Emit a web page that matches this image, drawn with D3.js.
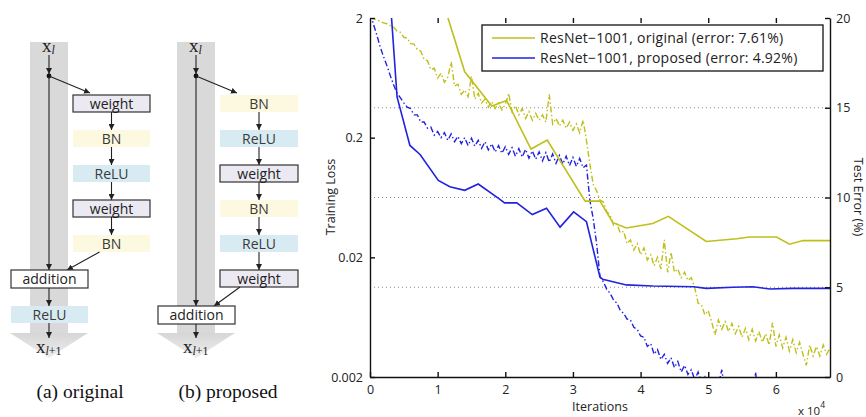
<!DOCTYPE html>
<html>
<head>
<meta charset="utf-8">
<script src="https://cdn.jsdelivr.net/npm/d3@7"></script>
<style>
  body { margin: 0; background: #fff; }
  svg { display: block; }
</style>
</head>
<body>
<svg id="fig" width="866" height="417"></svg>
<script>
// Training loss is logged every 500 iterations (x axis is in units of 10^4)
const iterStep = 0.05;

const origLoss = [
  2.0, 1.98, 1.92, 1.88, 1.82, 1.79, 1.73, 1.68, 1.55, 1.52,
  1.38, 1.36, 1.22, 1.21, 1.09, 1.06, 0.90, 0.88, 0.74, 0.76,
  0.63, 0.69, 0.58, 0.64, 0.86, 0.54, 0.56, 0.46, 0.50, 0.44,
  0.65, 0.42, 0.47, 0.39, 0.42, 0.36, 0.40, 0.35, 0.39, 0.34,
  0.38, 0.47, 0.33, 0.37, 0.31, 0.35, 0.29, 0.33, 0.28, 0.32,
  0.28, 0.31, 0.27, 0.46, 0.26, 0.29, 0.25, 0.28, 0.24, 0.27,
  0.23, 0.26, 0.22, 0.28, 0.19, 0.12, 0.081, 0.072, 0.060, 0.058,
  0.048, 0.045, 0.037, 0.038, 0.032, 0.033, 0.026, 0.028, 0.023, 0.026,
  0.021, 0.024, 0.019, 0.021, 0.017, 0.020, 0.016, 0.028, 0.015, 0.022,
  0.015, 0.016, 0.0135, 0.0150, 0.0128, 0.0135, 0.0112, 0.0083, 0.0080, 0.0066,
  0.0072, 0.0058, 0.0045, 0.0060, 0.0050, 0.0058, 0.0048, 0.0056, 0.0046, 0.0053,
  0.0043, 0.0051, 0.0041, 0.0050, 0.0040, 0.0048, 0.0039, 0.0046, 0.0037, 0.0057,
  0.0036, 0.0045, 0.0035, 0.0043, 0.0033, 0.0041, 0.0032, 0.0039, 0.0031, 0.0025,
  0.0037, 0.0030, 0.0036, 0.0030, 0.0037, 0.0031, 0.0035
];

const propLoss = [
  2.2, 1.78, 1.45, 1.15, 0.95, 0.80, 0.66, 0.55, 0.47, 0.43,
  0.39, 0.36, 0.35, 0.31, 0.31, 0.27, 0.27, 0.24, 0.245, 0.21,
  0.225, 0.20, 0.22, 0.19, 0.215, 0.185, 0.205, 0.178, 0.20, 0.172,
  0.198, 0.17, 0.19, 0.163, 0.185, 0.158, 0.178, 0.152, 0.172, 0.148,
  0.168, 0.145, 0.165, 0.14, 0.162, 0.138, 0.16, 0.135, 0.155, 0.132,
  0.152, 0.128, 0.150, 0.125, 0.146, 0.122, 0.142, 0.12, 0.14, 0.117,
  0.137, 0.115, 0.134, 0.112, 0.118, 0.060, 0.042, 0.026, 0.0138, 0.0125,
  0.0108, 0.0100, 0.0088, 0.0083, 0.0072, 0.0068, 0.0061, 0.0060, 0.0052, 0.0050,
  0.0044, 0.0043, 0.0036, 0.0038, 0.0031, 0.0034, 0.0028, 0.0031, 0.0026, 0.0029,
  0.0024, 0.0027, 0.0022, 0.0025, 0.0021, 0.0023, 0.0019, 0.0022, 0.0018, 0.0020,
  0.0016, 0.0019, 0.0015, 0.0017, 0.0023, 0.0015, 0.0016, 0.0014, 0.0019, 0.0013,
  0.0015, 0.0013, 0.0014, 0.0012, 0.0022, 0.0012, 0.0013, 0.0011, 0.0013, 0.0011,
  0.0012, 0.0010, 0.0019, 0.0010, 0.0011, 0.0010, 0.0011, 0.0009, 0.0010, 0.0009,
  0.0010, 0.0009, 0.0009, 0.0008, 0.0009, 0.0008, 0.0008
];

// Test error (%), evaluated at these iterations (x 10^4)
const origErrIter = [1.12, 1.40, 1.80, 2.02, 2.38, 2.62, 3.18, 3.40, 3.59, 3.79, 4.18, 4.41, 4.97, 5.42, 5.61, 6.01, 6.20, 6.40, 6.80];
const origErr     = [20.4, 17.0, 15.1, 15.4, 12.7, 13.2, 9.8, 9.8, 8.6, 8.3, 8.55, 8.95, 7.55, 7.7, 7.8, 7.8, 7.4, 7.6, 7.6];

const propErrIter = [0.30, 0.40, 0.59, 0.74, 1.01, 1.18, 1.40, 1.60, 1.90, 1.99, 2.17, 2.40, 2.61, 2.81, 3.01, 3.20, 3.40, 3.44, 3.79, 4.18, 4.78, 4.97, 5.37, 5.66, 5.91, 6.25, 6.80];
const propErr     = [21.0, 15.6, 12.9, 12.4, 10.95, 10.6, 10.4, 10.75, 9.95, 9.7, 9.7, 9.05, 9.4, 8.35, 9.2, 8.65, 5.55, 5.45, 5.13, 5.07, 5.03, 4.94, 5.0, 5.03, 4.9, 4.94, 4.94];

const legendLabels = ['ResNet\u22121001, original (error: 7.61%)', 'ResNet\u22121001, proposed (error: 4.92%)'];
const lossTicks = [0.002, 0.02, 0.2, 2];
const errTicks = [0, 5, 10, 15, 20];
const iterTicks = [0, 1, 2, 3, 4, 5, 6];

const origBlocks = ['weight', 'BN', 'ReLU', 'weight', 'BN'];
const propBlocks = ['BN', 'ReLU', 'weight', 'BN', 'ReLU', 'weight'];
const captions = ['(a) original', '(b) proposed'];

const colOrig = '#bfbf1a';
const colProp = '#2222e0';
const chartFont = '"Open Sans", "Noto Sans", sans-serif';
const serifFont = '"Liberation Serif", "DejaVu Serif", serif';

const svg = d3.select('#fig');

// ---------- residual unit diagrams ----------

const blockFill = { weight: '#ebe9f1', BN: '#fdf9e0', ReLU: '#d8ebf2', addition: '#ffffff' };
const blockStroke = { weight: '#333', BN: 'none', ReLU: 'none', addition: '#333' };

let defs = svg.append('defs');
defs.append('marker')
  .attr('id', 'ah')
  .attr('viewBox', '0 0 10 10')
  .attr('refX', 10).attr('refY', 5)
  .attr('markerWidth', 6).attr('markerHeight', 6)
  .attr('markerUnits', 'userSpaceOnUse')
  .attr('orient', 'auto')
  .append('path').attr('d', 'M0,0 L10,5 L0,10 Z').attr('fill', '#222');

let grad = defs.append('linearGradient').attr('id', 'chev')
  .attr('x1', 0).attr('y1', 0).attr('x2', 0).attr('y2', 1);
grad.append('stop').attr('offset', '0%').attr('stop-color', '#d6d6d6');
grad.append('stop').attr('offset', '100%').attr('stop-color', '#eeeeee');

let arrow = (g, x1, y1, x2, y2) => {
  g.append('line')
    .attr('x1', x1).attr('y1', y1).attr('x2', x2).attr('y2', y2)
    .attr('stroke', '#222').attr('stroke-width', 1.1)
    .attr('marker-end', 'url(#ah)');
};

let block = (g, label, bx, by, bw, bh) => {
  g.append('rect')
    .attr('x', bx).attr('y', by).attr('width', bw).attr('height', bh)
    .attr('fill', blockFill[label])
    .attr('stroke', blockStroke[label])
    .attr('stroke-width', 1.2);
  g.append('text')
    .attr('x', bx + bw / 2).attr('y', by + bh / 2 + 5)
    .attr('text-anchor', 'middle')
    .attr('font-family', chartFont)
    .attr('font-size', 14)
    .attr('fill', label === 'weight' || label === 'addition' ? '#222' : '#3a3a3a')
    .text(label);
};

let drawUnit = function (cfg) {
  let g = svg.append('g');
  let cx = cfg.cx;

  g.append('rect').attr('x', cx - 19).attr('y', 42).attr('width', 38).attr('height', 291)
    .attr('fill', '#d9d9d9');
  g.append('path')
    .attr('d', `M${cx - 39},333 L${cx + 39},333 L${cx},358 Z`)
    .attr('fill', 'url(#chev)');

  let xl = g.append('text').attr('x', cx - 7).attr('y', 52)
    .attr('font-family', serifFont).attr('font-size', 19).attr('fill', '#222');
  xl.append('tspan').text('x');
  xl.append('tspan').attr('font-size', 12).attr('font-style', 'italic').attr('dy', 2).text('l');

  arrow(g, cx, 55, cx, 74);
  g.append('circle').attr('cx', cx).attr('cy', 76).attr('r', 2.4).attr('fill', '#111');
  arrow(g, cx, 77, cx, cfg.addY);
  arrow(g, cx, 76, cfg.bx + 17, 93);

  let bcx = cfg.bx + cfg.bw / 2;
  cfg.blocks.forEach((label, i) => {
    let by = 95 + i * 35;
    block(g, label, cfg.bx, by, cfg.bw, 17);
    if (i < cfg.blocks.length - 1) {
      arrow(g, bcx, by + 17, bcx, by + 35);
    }
  });
  let lastBottom = 95 + (cfg.blocks.length - 1) * 35 + 17;
  arrow(g, bcx + cfg.joinDx, lastBottom, cx + 18, cfg.addY);

  block(g, 'addition', cx - 38, cfg.addY, 77, 18);
  let after = cfg.addY + 18;
  if (cfg.reluAfter) {
    arrow(g, cx, after, cx, after + 18);
    block(g, 'ReLU', cx - 38, after + 18, 77, 17);
    after += 35;
  }
  arrow(g, cx, after, cx, 338);

  let xn = g.append('text').attr('x', cx - 13).attr('y', 353)
    .attr('font-family', serifFont).attr('font-size', 19).attr('fill', '#222');
  xn.append('tspan').text('x');
  xn.append('tspan').attr('font-size', 12).attr('font-style', 'italic').attr('dy', 2).text('l');
  xn.append('tspan').attr('font-size', 12).text('+1');

  g.append('text').attr('x', cfg.capX).attr('y', 398)
    .attr('text-anchor', 'middle')
    .attr('font-family', serifFont).attr('font-size', 19.5).attr('fill', '#111')
    .text(cfg.caption);
};

drawUnit({ cx: 49, bx: 73, bw: 77, blocks: origBlocks, addY: 270, reluAfter: true, joinDx: -12, capX: 80, caption: captions[0] });
drawUnit({ cx: 196, bx: 220, bw: 78, blocks: propBlocks, addY: 306, reluAfter: false, joinDx: -19, capX: 228, caption: captions[1] });

// ---------- training curves ----------

const x = d3.scaleLinear().domain([0, 6.8]).range([370, 830]);
const yLoss = d3.scaleLog().domain([0.002, 2]).range([377, 18]);
const yErr = d3.scaleLinear().domain([0, 20]).range([377, 18]);

defs.append('clipPath').attr('id', 'plot')
  .append('rect').attr('x', 370).attr('y', 18).attr('width', 460).attr('height', 359);

let chart = svg.append('g');

// dotted grid from the error axis
chart.selectAll('.grid')
  .data(errTicks.filter(v => v > 0 && v < 20))
  .enter().append('line')
  .attr('x1', x(0)).attr('x2', x(6.8))
  .attr('y1', d => yErr(d)).attr('y2', d => yErr(d))
  .attr('stroke', '#888').attr('stroke-width', 1)
  .attr('stroke-dasharray', '1,3');

let plot = chart.append('g').attr('clip-path', 'url(#plot)');

let lossLine = d3.line()
  .x((d, i) => x(i * iterStep))
  .y(d => yLoss(d));

let errLine = iters => d3.line()
  .x((d, i) => x(iters[i]))
  .y(d => yErr(d));

plot.append('path').datum(origLoss)
  .attr('d', lossLine).attr('fill', 'none')
  .attr('stroke', colOrig).attr('stroke-width', 1.4)
  .attr('stroke-dasharray', '6,2.5,1.5,2.5');

plot.append('path').datum(propLoss)
  .attr('d', lossLine).attr('fill', 'none')
  .attr('stroke', colProp).attr('stroke-width', 1.4)
  .attr('stroke-dasharray', '6,2.5,1.5,2.5');

plot.append('path').datum(origErr)
  .attr('d', errLine(origErrIter)).attr('fill', 'none')
  .attr('stroke', colOrig).attr('stroke-width', 1.6);

plot.append('path').datum(propErr)
  .attr('d', errLine(propErrIter)).attr('fill', 'none')
  .attr('stroke', colProp).attr('stroke-width', 1.6);

// axes
let styleAxis = g => {
  g.selectAll('path, line').attr('stroke', '#111').attr('stroke-width', 1.4);
  g.selectAll('text').attr('font-family', chartFont).attr('font-size', 12.5).attr('fill', '#222');
};

chart.append('g')
  .attr('transform', 'translate(0,377)')
  .call(d3.axisBottom(x).tickValues(iterTicks).tickFormat(d3.format('d'))
    .tickSizeInner(-5).tickSizeOuter(0).tickPadding(8))
  .call(styleAxis);

chart.append('g')
  .attr('transform', 'translate(0,18)')
  .call(d3.axisTop(x).tickValues(iterTicks.slice(1)).tickFormat('')
    .tickSizeInner(-5).tickSizeOuter(0))
  .call(g => g.select('.domain').remove())
  .call(styleAxis);

chart.append('g')
  .attr('transform', 'translate(370,0)')
  .call(d3.axisLeft(yLoss).tickValues(lossTicks).tickFormat(d => String(d))
    .tickSizeInner(-5).tickSizeOuter(0).tickPadding(7))
  .call(styleAxis);

chart.append('g')
  .attr('transform', 'translate(830,0)')
  .call(d3.axisRight(yErr).tickValues(errTicks)
    .tickSizeInner(-5).tickSizeOuter(0).tickPadding(6))
  .call(styleAxis);

// axis titles
chart.append('text')
  .attr('transform', 'translate(335,197) rotate(-90)')
  .attr('text-anchor', 'middle')
  .attr('font-family', chartFont).attr('font-size', 12.5).attr('fill', '#222')
  .text('Training Loss');

chart.append('text')
  .attr('transform', 'translate(854,197) rotate(90)')
  .attr('text-anchor', 'middle')
  .attr('font-family', chartFont).attr('font-size', 12.5).attr('fill', '#222')
  .text('Test Error (%)');

chart.append('text')
  .attr('x', 600).attr('y', 411)
  .attr('text-anchor', 'middle')
  .attr('font-family', chartFont).attr('font-size', 12.5).attr('fill', '#222')
  .text('Iterations');

let mult = chart.append('text')
  .attr('x', 798).attr('y', 415)
  .attr('font-family', chartFont).attr('font-size', 11.5).attr('fill', '#222');
mult.append('tspan').text('x 10');
mult.append('tspan').attr('font-size', 8.5).attr('dy', -7).text('4');

// legend
let legend = chart.append('g');
legend.append('rect')
  .attr('x', 482).attr('y', 25).attr('width', 341).attr('height', 46)
  .attr('fill', '#fff').attr('stroke', '#111').attr('stroke-width', 1.3);

let entries = legend.selectAll('.entry')
  .data(legendLabels)
  .enter().append('g')
  .attr('transform', (d, i) => `translate(0,${38 + i * 20})`);

entries.append('line')
  .attr('x1', 492).attr('x2', 535)
  .attr('stroke', (d, i) => i === 0 ? colOrig : colProp)
  .attr('stroke-width', 1.6);

entries.append('text')
  .attr('x', 540).attr('y', 5)
  .attr('font-family', chartFont).attr('font-size', 14).attr('letter-spacing', 0.25).attr('fill', '#222')
  .text(d => d);
</script>
</body>
</html>
